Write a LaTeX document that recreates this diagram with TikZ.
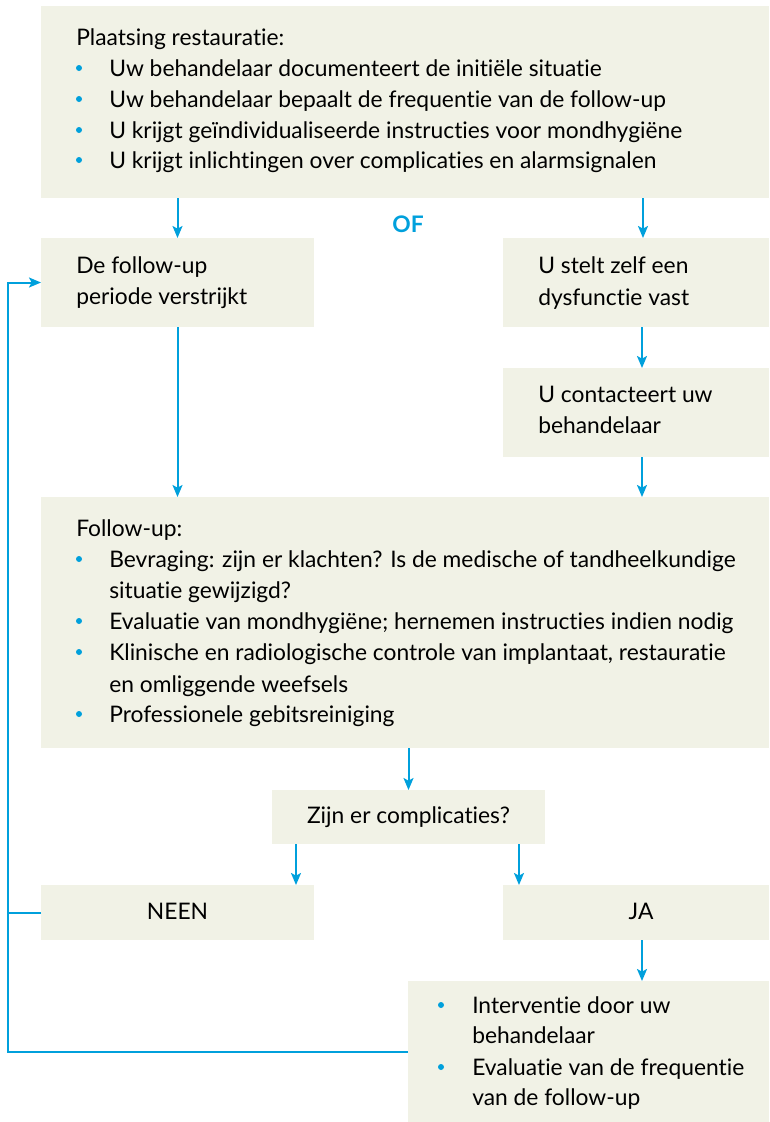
\documentclass[tikz,border=0pt]{standalone}
\usepackage{fontspec}
\setmainfont{Lato}[Ligatures=NoCommon]
\usetikzlibrary{arrows.meta,fit}
\definecolor{boxfill}{RGB}{241,242,230}
\definecolor{flowblue}{RGB}{0,160,220}
\begin{document}
\begin{tikzpicture}[x=0.75pt,y=-0.75pt,
  box/.style={fill=boxfill, draw=none, inner sep=0pt, outer sep=0pt},
  txt/.style={anchor=base west, inner sep=0pt, font=\fontsize{17.1}{20}\selectfont, text=black},
  ctxt/.style={anchor=base, inner sep=0pt, font=\fontsize{17.1}{20}\selectfont, text=black},
  dot/.style={circle, fill=flowblue, draw=none, inner sep=0pt, minimum size=4.5pt},
  arr/.style={draw=flowblue, line width=1.5pt, -{Stealth[length=9pt,width=7.5pt,inset=2pt]}},
  ln/.style={draw=flowblue, line width=1.5pt}]
\useasboundingbox (0,0) rectangle (769,1122);
% boxes
\node[box, fit={(41,6) (769,198)}] (top) {};
\node[box, fit={(41,238) (314,327)}] (left) {};
\node[box, fit={(503,238) (769,327)}] (self) {};
\node[box, fit={(503,368) (769,457)}] (contact) {};
\node[box, fit={(41,497) (769,748)}] (fu) {};
\node[box, fit={(272,790) (545,844)}] (q) {};
\node[box, fit={(41,885) (314,940)}] (neen) {};
\node[box, fit={(503,885) (769,940)}] (ja) {};
\node[box, fit={(408,981) (769,1122)}] (bot) {};
% top text
\node[txt] (t0) at (76,45) {Plaatsing restauratie:};
\foreach \y/\s [count=\i] in {76/{Uw behandelaar documenteert de initiële situatie},
  107/{Uw behandelaar bepaalt de frequentie van de follow-up},
  138/{U krijgt geïndividualiseerde instructies voor mondhygiëne},
  168/{U krijgt inlichtingen over complicaties en alarmsignalen}} {
  \node[dot] (tb\i) at (79,\y-8) {};
  \node[txt] (tt\i) at (109,\y) {\s};
}
\node[anchor=base, inner sep=0pt, font=\fontsize{17.1}{20}\selectfont\bfseries, text=flowblue] (of) at (408,232) {OF};
% left / right
\node[txt] (l1) at (76,273) {De follow-up};
\node[txt] (l2) at (76,304) {periode verstrijkt};
\node[txt] (s1) at (538,273) {U stelt zelf een};
\node[txt] (s2) at (538,305) {dysfunctie vast};
\node[txt] (c1) at (538,402) {U contacteert uw};
\node[txt] (c2) at (538,433) {behandelaar};
% follow-up
\node[txt] (f0) at (76,536) {Follow-up:};
\node[dot] (fb1) at (79,559) {};
\node[txt] (f1) at (109,567) {Bevraging: zijn er klachten? Is de medische of tandheelkundige};
\node[txt] (f1b) at (109,598) {situatie gewijzigd?};
\node[dot] (fb2) at (79,621) {};
\node[txt] (f2) at (109,629) {Evaluatie van mondhygiëne; hernemen instructies indien nodig};
\node[dot] (fb3) at (79,652) {};
\node[txt] (f3) at (109,660) {Klinische en radiologische controle van implantaat, restauratie};
\node[txt] (f3b) at (109,692) {en omliggende weefsels};
\node[dot] (fb4) at (79,714) {};
\node[txt] (f4) at (109,722) {Professionele gebitsreiniging};
% question
\node[ctxt] (qt) at (408.5,823) {Zijn er complicaties?};
\node[ctxt] (nt) at (177.5,919) {NEEN};
\node[ctxt] (jt) at (641,919) {JA};
% bottom
\node[dot] (bb1) at (441,1005) {};
\node[txt] (b1) at (472,1013) {Interventie door uw};
\node[txt] (b1b) at (472,1043) {behandelaar};
\node[dot] (bb2) at (441,1067) {};
\node[txt] (b2) at (472,1075) {Evaluatie van de frequentie};
\node[txt] (b2b) at (472,1105) {van de follow-up};
% connectors
\coordinate (fbx) at (8,0);
\draw[arr] (left.north |- top.south) -- (left.north);
\draw[arr] ([xshift=5.25pt]self.north |- top.south) -- ([xshift=5.25pt]self.north);
\draw[arr] ([xshift=4.5pt]self.south) -- ([xshift=4.5pt]contact.north);
\draw[arr] ([xshift=4.5pt]contact.south) -- ([xshift=4.5pt]contact.south |- fu.north);
\draw[arr] (left.south) -- (left.south |- fu.north);
\draw[arr] (q.north |- fu.south) -- (q.north);
\draw[arr] ([xshift=18pt]q.south west) -- ([xshift=18pt]q.south west |- neen.north);
\draw[arr] ([xshift=-19.5pt]q.south east) -- ([xshift=-19.5pt]q.south east |- ja.north);
\draw[arr] ([xshift=4.5pt]ja.south) -- ([xshift=4.5pt]ja.south |- bot.north);
\draw[ln] (neen.west) -- (neen.west -| fbx);
\draw[arr] (bot.west) -- (bot.west -| fbx) |- (left.west);
\end{tikzpicture}
\end{document}
